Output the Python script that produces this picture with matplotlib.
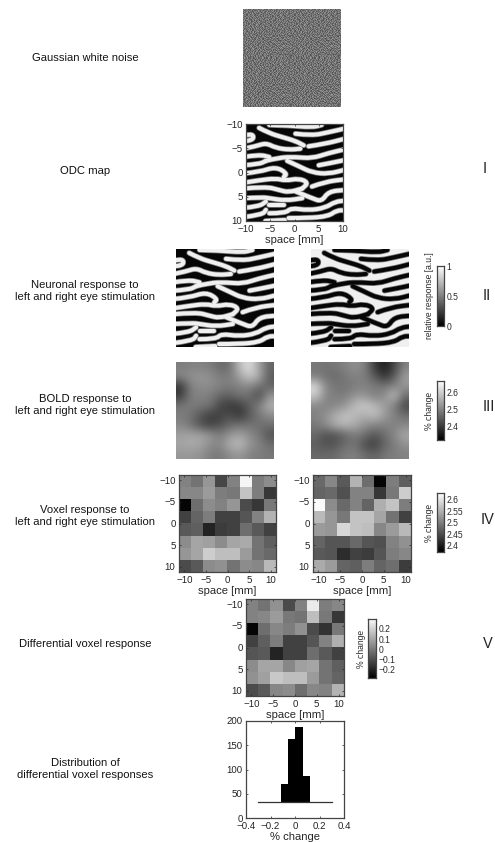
#!/usr/bin/env python3
import numpy as np
import matplotlib
matplotlib.use("Agg")
import matplotlib.pyplot as plt
from matplotlib.patches import PathPatch
from matplotlib.path import Path

plt.rcParams["font.family"] = ["Liberation Sans", "DejaVu Sans"]
plt.rcParams["text.hinting"] = "no_autohint"

W, H = 495, 842

# noise tile: grey levels (hex digits), mirrored and repeated; single noise pixels can't be read off the picture
noise_rows = [
    "7a3c95b2684d1e86c37a59e4",
    "4e86d1739b25a7c3684fb192",
    "b2597c48e3a6167d92c53a78",
    "6d38a1f5724c9b3e84a6d715",
    "937ec2486b1da5f37928c46e",
    "2ca6597d3e81b4629fa7385c",
    "e5814ba36d972c58e13b6a94",
    "79c23e68a4f1573b96d82a4c",
    "a41d96b25c7e38f4a1692d7b",
    "58e37a4d92b6c1857e3fa496",
    "c6924f18b3a75d2e6894c37a",
    "3b7ae5621d94f8a35c7b16d8",
    "8f146c9a37d2b65e194ca837",
    "d5a83b7e146c92a7f3586b29",
    "1784c2d95ae36b1f7a94825d",
    "6ae395187c4d28b6e31a9f47",
    "94c7b26e5a138fd4627c3a85",
    "2d6189f3c7a54e9b1d86a37c",
    "b73e5a941d86c2a7593fe614",
    "5c98a27d4be16f3984a2c76d",
    "e1476d83b29a5c7e1f648b39",
    "78a3c5f1946d2b87a3e5916c",
    "3f962ba7e158c4d3697b2a84",
    "a6d4187c39e25b9f4c81d673",
]

# white bands of the ODC map: x, y in mm
odc_bands = [
    ([-5.2, -1.2, 3.6, 5.6], [-9.8, -9.7, -9.3, -9.8]),
    ([-7.3, -5.2, -2.5, 0.2, 1.9], [-9.2, -8.1, -7.3, -6.5, -5.6]),
    ([0.2, 3.6, 7, 10.5], [-8, -7.6, -8.3, -9.1]),
    ([-10.5, -9, -8.3, -9, -10.5], [-7.6, -8, -7.3, -6.6, -6.5]),
    ([-10.5, -8, -5.9, -3.9, -1.2, 1.2], [-4.9, -5.4, -6.1, -5.1, -4.7, -4.9]),
    ([2.9, 6.3, 10.5], [-5.4, -5.9, -7]),
    ([-10.5, -7.3, -5.2], [-3.2, -3.7, -3.2]),
    ([-5.9, -3.2, 0.2, 3.6, 7, 10.5], [-2.4, -3.1, -3.2, -2.9, -4, -4.8]),
    ([-10.5, -7.3, -5.9], [-1.5, -1.7, -2.4]),
    ([-1.5, 0.9, 3.6, 7, 10.5], [-2.4, -1.3, 0, 0.3, -0.6]),
    ([5, 7.7, 10.5], [-1.5, -2, -2.6]),
    ([-10.5, -7.3, -3.9, -1.5, -2.2], [0.2, -0.1, -1.2, 0.2, 0.9]),
    ([-10.5, -7.3, -3.9, -1.8, 0.9, 2.9, 1.6], [2.1, 1.6, 1.2, 1.7, 1.2, 2.1, 3.3]),
    ([-10.5, -5.9, -3.2, -1.2, 1.6], [3.3, 2.9, 3.6, 4.1, 3.3]),
    ([3.6, 6.3, 10.5], [2.9, 1.9, 1.4]),
    ([0.2, 3.6, 5.6, 7, 10.5], [3.9, 5.3, 6, 3.9, 3.6]),
    ([-10.5, -6.6, -5.2, -1.8, 1.6], [5.3, 5.1, 5.3, 5.8, 5.3]),
    ([-10.5, -7.3, -5.9], [7.3, 7, 6]),
    ([-5.2, -2.2], [6.7, 6.7]),
    ([-10.5, -6.6, -5.9], [9.2, 8.7, 7.7]),
    ([-5.2, -1.8, -0.8, 2.9, 6.3, 8.4, 10.5], [8.4, 8.4, 7.3, 7.8, 7.3, 6, 5.8]),
    ([-1.2, 2.9, 7, 8.7, 10.5], [9.4, 9.4, 9, 7.8, 7.8]),
    ([-6, -2], [10, 9.8]),
]

# BOLD maps, grey levels on a 10x10 grid
bold_left_levels = [
    [125, 130, 130, 125, 105, 110, 190, 225, 160, 100],
    [135, 145, 150, 145, 125, 125, 160, 200, 170, 90],
    [50, 130, 140, 140, 130, 125, 130, 135, 110, 100],
    [60, 125, 130, 125, 100, 95, 115, 110, 70, 150],
    [120, 125, 120, 115, 70, 55, 60, 95, 130, 180],
    [125, 115, 85, 60, 65, 80, 50, 90, 120, 140],
    [135, 115, 80, 65, 80, 105, 115, 115, 110, 110],
    [160, 165, 165, 150, 125, 150, 165, 140, 120, 80],
    [165, 170, 165, 140, 135, 175, 190, 150, 130, 110],
    [150, 150, 145, 125, 120, 140, 150, 130, 125, 120],
]
bold_right_levels = [
    [120, 115, 120, 130, 145, 130, 60, 25, 70, 130],
    [125, 115, 105, 120, 130, 125, 90, 50, 90, 160],
    [225, 135, 120, 115, 125, 130, 125, 120, 135, 150],
    [200, 135, 125, 125, 150, 150, 125, 140, 195, 105],
    [135, 130, 135, 150, 190, 205, 185, 160, 125, 70],
    [130, 145, 175, 195, 185, 170, 195, 155, 130, 110],
    [120, 140, 175, 185, 170, 145, 130, 130, 130, 135],
    [105, 80, 80, 100, 125, 110, 85, 110, 135, 170],
    [95, 80, 85, 110, 115, 75, 60, 100, 125, 145],
    [105, 105, 110, 125, 130, 110, 100, 120, 125, 130],
]

# voxel maps, grey levels
voxel_left_levels = [
    [130, 115, 150, 70, 130, 245, 125, 140],
    [135, 135, 155, 125, 120, 195, 125, 55],
    [5, 110, 140, 130, 150, 75, 55, 120],
    [65, 100, 125, 65, 65, 85, 130, 180],
    [90, 95, 35, 60, 65, 110, 90, 65],
    [140, 165, 160, 140, 165, 170, 115, 95],
    [150, 165, 205, 190, 190, 155, 115, 105],
    [75, 90, 140, 145, 115, 140, 135, 185],
]
voxel_right_levels = [
    [105, 135, 90, 180, 110, 5, 125, 95],
    [100, 105, 80, 130, 130, 55, 120, 205],
    [250, 140, 105, 130, 100, 175, 195, 125],
    [185, 150, 120, 195, 195, 165, 115, 65],
    [155, 150, 215, 195, 190, 135, 155, 185],
    [100, 85, 85, 105, 85, 80, 130, 145],
    [90, 85, 45, 65, 60, 85, 125, 135],
    [170, 155, 100, 95, 125, 100, 110, 60],
]
diff_levels = [
    [130, 115, 145, 75, 130, 235, 125, 135],
    [130, 135, 155, 120, 115, 190, 120, 55],
    [5, 110, 135, 125, 145, 75, 50, 120],
    [65, 95, 125, 65, 65, 85, 130, 175],
    [85, 90, 35, 65, 65, 110, 90, 65],
    [140, 165, 165, 135, 160, 165, 115, 95],
    [145, 160, 200, 190, 190, 155, 115, 100],
    [75, 90, 135, 140, 110, 135, 130, 180],
]

hist_left = [-0.117, -0.057, 0.0, 0.063]
hist_width = [0.06, 0.057, 0.063, 0.062]
hist_top = [70, 162, 187, 87]
hist_base = 33
hist_range = [-0.3, 0.3]

space_ticks = [-10, -5, 0, 5, 10]

row_labels = [
    ("Gaussian white noise", 58),
    ("ODC map", 171),
    ("Neuronal response to\nleft and right eye stimulation", 291),
    ("BOLD response to\nleft and right eye stimulation", 405),
    ("Voxel response to\nleft and right eye stimulation", 516),
    ("Differential voxel response", 644),
    ("Distribution of\ndifferential voxel responses", 769),
]
numerals = [("I", 483, 169), ("II", 483, 296), ("III", 483, 407), ("IV", 481, 520), ("V", 483, 644)]

FONT = 8.15
TICK = 7.0
BAR_TICK = 6.2
BAR_LABEL = 6.2
EDGE = "#444444"
INK = "#222222"


def add_axes(x0, y0, x1, y1):
    return fig.add_axes([x0 / W, 1 - y1 / H, (x1 - x0) / W, (y1 - y0) / H])


def levels_to_values(levels, vmin, vmax):
    return vmin + np.array(levels, dtype=float) / 255 * (vmax - vmin)


def style_box(ax):
    for spine in ax.spines.values():
        spine.set_color(EDGE)
        spine.set_linewidth(0.9)


def style_ticks(ax):
    ax.tick_params(labelsize=TICK, length=1.5, width=0.5, direction="in", pad=2.5,
                   colors=INK, top=True, right=True)
    ax.tick_params(axis="x", pad=3)
    style_box(ax)


def space_axes(ax):
    labels = [str(t).replace("-", "\u2212") for t in space_ticks]
    ax.set_yticks(space_ticks)
    ax.set_yticklabels(labels)
    ax.set_xticks(space_ticks)
    ax.set_xticklabels(labels)
    ax.set_xlabel("space [mm]", fontsize=FONT, labelpad=0.8, color=INK)
    style_ticks(ax)


def bare_axes(ax):
    ax.set_xticks([])
    ax.set_yticks([])
    for spine in ax.spines.values():
        spine.set_visible(False)


def band_path(xs, ys):
    # quadratic segments through the midpoints, so the bands don't look jagged
    pts = np.column_stack([xs, ys])
    verts = [pts[0]]
    codes = [Path.MOVETO]
    for p, q in zip(pts[1:-1], pts[2:]):
        verts += [p, (p + q) / 2]
        codes += [Path.CURVE3, Path.CURVE3]
    verts.append(pts[-1])
    codes.append(Path.LINETO)
    return Path(verts, codes)


def draw_odc(ax, invert=False):
    bg, soft, fg = ("#060606", "#777777", "#f0f0f0")
    if invert:
        bg, fg = fg, bg
    ax.set_facecolor(bg)
    ax.set_xlim(-10, 10)
    ax.set_ylim(10, -10)
    for color, lw in ((soft, 4.0), (fg, 2.9)):
        for xs, ys in odc_bands:
            ax.add_patch(PathPatch(band_path(xs, ys), fill=False, edgecolor=color, lw=lw,
                                   capstyle="round", joinstyle="round"))


def draw_voxels(ax, levels, vmin, vmax):
    ax.imshow(levels_to_values(levels, vmin, vmax), cmap="gray", vmin=vmin, vmax=vmax,
              extent=[-11.25, 11.25, 11.25, -11.25], interpolation="nearest", aspect="auto")
    space_axes(ax)


def colorbar(x0, y0, x1, y1, vmin, vmax, ticks, tick_labels, label, label_x):
    cax = add_axes(x0, y0, x1, y1)
    ramp = np.linspace(vmin, vmax, 128)[::-1].reshape(-1, 1)
    cax.imshow(ramp, cmap="gray", vmin=vmin, vmax=vmax, extent=[0, 1, vmin, vmax], aspect="auto")
    cax.set_xticks([])
    cax.yaxis.tick_right()
    cax.set_yticks(ticks)
    cax.set_yticklabels(tick_labels)
    cax.tick_params(labelsize=BAR_TICK, length=0, pad=2, colors=INK)
    style_box(cax)
    fig.text(label_x / W, 1 - (y0 + y1) / 2 / H, label, rotation=90, ha="center", va="center",
             fontsize=BAR_LABEL, color=INK)


fig = plt.figure(figsize=(W / 100, H / 100), dpi=100)

for text, y in row_labels:
    fig.text(85 / W, 1 - y / H, text, ha="center", va="center", fontsize=FONT,
             color="#111111", linespacing=1.2)
for text, x, y in numerals:
    fig.text(x / W, 1 - y / H, text, ha="left", va="center", fontsize=10.5, color=INK)

# noise
ax = add_axes(243, 9, 341, 107)
noise = np.array([[int(c, 16) for c in row] for row in noise_rows], dtype=float)
noise = np.block([[noise, noise[::-1]], [noise[:, ::-1], noise.T]])
ax.imshow(np.tile(noise, (3, 3))[:98, :98], cmap="gray", vmin=-14, vmax=34, interpolation="nearest", aspect="auto")
bare_axes(ax)

# ODC map
ax = add_axes(246, 124, 343, 221)
draw_odc(ax)
space_axes(ax)

# neuronal
ax = add_axes(176, 249, 274, 347)
draw_odc(ax)
bare_axes(ax)
ax = add_axes(311, 249, 409, 347)
draw_odc(ax, invert=True)
bare_axes(ax)
colorbar(437, 266, 444, 326, 0, 1, [0, 0.5, 1], ["0", "0.5", "1"], "relative response [a.u.]", 430)

# BOLD
bold_min, bold_max = 2.322, 2.669
for x0, levels in ((176, bold_left_levels), (311, bold_right_levels)):
    ax = add_axes(x0, 362, x0 + 98, 459)
    ax.imshow(levels_to_values(levels, bold_min, bold_max), cmap="gray", vmin=bold_min, vmax=bold_max,
              interpolation="bicubic", aspect="auto")
    bare_axes(ax)
colorbar(437, 381, 444, 440, bold_min, bold_max, [2.4, 2.5, 2.6], ["2.4", "2.5", "2.6"], "% change", 430)

# voxels
vox_min, vox_max = 2.374, 2.629
draw_voxels(add_axes(179, 475, 276, 572), voxel_left_levels, vox_min, vox_max)
draw_voxels(add_axes(313, 475, 411, 572), voxel_right_levels, vox_min, vox_max)
colorbar(437, 493, 444, 552, vox_min, vox_max, [2.4, 2.45, 2.5, 2.55, 2.6],
         ["2.4", "2.45", "2.5", "2.55", "2.6"], "% change", 430)

# differential
diff_min, diff_max = -0.282, 0.298
draw_voxels(add_axes(246, 599, 344, 696), diff_levels, diff_min, diff_max)
colorbar(368, 619, 376, 678, diff_min, diff_max, [-0.2, -0.1, 0, 0.1, 0.2],
         ["\u22120.2", "\u22120.1", "0", "0.1", "0.2"], "% change", 361)

# histogram
ax = add_axes(246, 721, 344, 818)
ax.plot(hist_range, [hist_base, hist_base], color="#333333", lw=0.9)
ax.bar(hist_left, np.array(hist_top) - hist_base, width=hist_width, bottom=hist_base,
       align="edge", color="black", linewidth=0)
ax.set_xlim(-0.4, 0.4)
ax.set_ylim(0, 200)
ax.set_xticks([-0.4, -0.2, 0, 0.2, 0.4])
ax.set_xticklabels(["\u22120.4", "\u22120.2", "0", "0.2", "0.4"])
ax.set_yticks([0, 50, 100, 150, 200])
ax.set_xlabel("% change", fontsize=FONT, labelpad=0.8, color=INK)
style_ticks(ax)

fig.savefig("out.png", dpi=100)
